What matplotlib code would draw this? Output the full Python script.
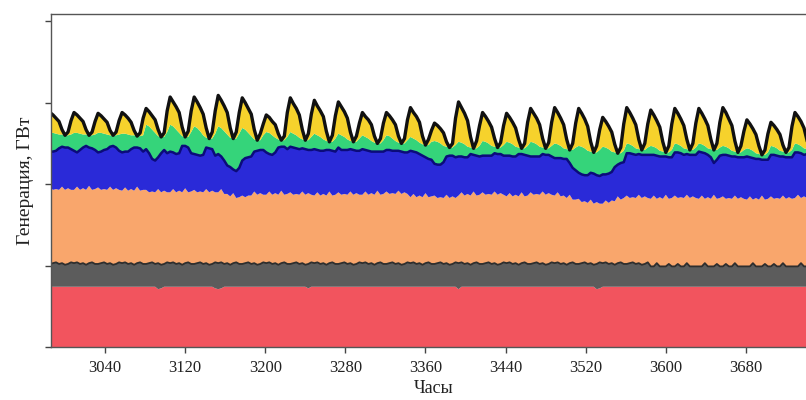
import numpy as np
import matplotlib
matplotlib.use("Agg")
import matplotlib.pyplot as plt

# hourly axis: one value every 3 hours, starting at hour 2985
start_hour = 2985
step_hours = 3

# generation by source, GW (one row = one day, 8 values)
red = [
    7.4,7.4,7.4,7.4,7.4,7.4,7.4,7.4,
    7.4,7.4,7.4,7.4,7.4,7.4,7.4,7.4,
    7.4,7.4,7.4,7.4,7.4,7.4,7.4,7.4,
    7.4,7.4,7.4,7.4,7.4,7.4,7.4,7.4,
    7.4,7.4,7.4,7.4,7.1,7.2,7.4,7.4,
    7.4,7.4,7.4,7.4,7.4,7.4,7.4,7.4,
    7.4,7.4,7.4,7.4,7.4,7.4,7.4,7.2,
    7.1,7.2,7.4,7.4,7.4,7.4,7.4,7.4,
    7.4,7.4,7.4,7.4,7.4,7.4,7.4,7.4,
    7.4,7.4,7.4,7.4,7.4,7.4,7.4,7.4,
    7.4,7.4,7.4,7.4,7.4,7.4,7.2,7.4,
    7.4,7.4,7.4,7.4,7.4,7.4,7.4,7.4,
    7.4,7.4,7.4,7.4,7.4,7.4,7.4,7.4,
    7.4,7.4,7.4,7.4,7.4,7.4,7.4,7.4,
    7.4,7.4,7.4,7.4,7.4,7.4,7.4,7.4,
    7.4,7.4,7.4,7.4,7.4,7.4,7.4,7.4,
    7.4,7.4,7.4,7.4,7.4,7.4,7.4,7.4,
    7.1,7.4,7.4,7.4,7.4,7.4,7.4,7.4,
    7.4,7.4,7.4,7.4,7.4,7.4,7.4,7.4,
    7.4,7.4,7.4,7.4,7.4,7.4,7.4,7.4,
    7.4,7.4,7.4,7.4,7.4,7.4,7.4,7.4,
    7.4,7.4,7.4,7.4,7.4,7.4,7.4,7.4,
    7.4,7.4,7.4,7.4,7.4,7.4,7.1,7.2,
    7.4,7.4,7.4,7.4,7.4,7.4,7.4,7.4,
    7.4,7.4,7.4,7.4,7.4,7.4,7.4,7.4,
    7.4,7.4,7.4,7.4,7.4,7.4,7.4,7.4,
    7.4,7.4,7.4,7.4,7.4,7.4,7.4,7.4,
    7.4,7.4,7.4,7.4,7.4,7.4,7.4,7.4,
    7.4,7.4,7.4,7.4,7.4,7.4,7.4,7.4,
    7.4,7.4,7.4,7.4,7.4,7.4,7.4,7.4,
    7.4,7.4,7.4,7.4,7.4,7.4,7.4,7.4,
    7.4,7.4,7.4,7.4,7.4,7.4,7.4,7.4,
]

gray = [
    2.8,2.9,3.0,2.8,2.9,2.7,2.8,3.0,
    2.9,3.0,2.8,2.9,2.7,2.9,3.0,2.8,
    2.8,2.9,3.0,2.8,2.9,2.7,2.8,3.0,
    2.9,3.0,2.8,2.9,2.7,2.9,3.0,2.8,
    2.8,2.9,3.0,2.8,3.2,2.9,2.8,3.0,
    2.9,3.0,2.8,2.9,2.7,2.9,3.0,2.8,
    2.8,2.9,3.0,2.8,2.9,2.7,2.8,3.2,
    3.2,3.2,2.8,2.9,2.7,2.9,3.0,2.8,
    2.8,2.9,3.0,2.8,2.9,2.7,2.8,3.0,
    2.9,3.0,2.8,2.9,2.7,2.9,3.0,2.8,
    2.8,2.9,3.0,2.8,2.9,2.7,3.0,3.0,
    2.9,3.0,2.8,2.9,2.7,2.9,3.0,2.8,
    2.8,2.9,3.0,2.8,2.9,2.7,2.8,3.0,
    2.9,3.0,2.8,2.9,2.7,2.9,3.0,2.8,
    2.8,2.9,3.0,2.8,2.9,2.7,2.8,3.0,
    2.9,3.0,2.8,2.9,2.7,2.9,3.0,2.8,
    2.8,2.9,3.0,2.8,2.9,2.7,2.8,3.0,
    3.2,3.0,2.8,2.9,2.7,2.9,3.0,2.8,
    2.8,2.9,3.0,2.8,2.9,2.7,2.8,3.0,
    2.9,3.0,2.8,2.9,2.7,2.9,3.0,2.8,
    2.8,2.9,3.0,2.8,2.9,2.7,2.8,3.0,
    2.9,3.0,2.8,2.9,2.7,2.9,3.0,2.8,
    2.8,2.9,3.0,2.8,2.9,2.7,3.1,3.2,
    2.9,3.0,2.8,2.9,2.7,2.9,3.0,2.8,
    2.8,2.9,3.0,2.8,2.9,2.7,2.8,3.0,
    2.5,2.5,2.9,2.5,2.5,2.5,2.8,2.5,
    2.5,2.8,2.5,2.5,2.9,2.5,2.5,2.5,
    2.5,2.5,2.9,2.5,2.5,2.5,2.8,2.5,
    2.5,2.8,2.5,2.5,2.9,2.5,2.5,2.5,
    2.5,2.5,2.9,2.5,2.5,2.5,2.8,2.5,
    2.5,2.8,2.5,2.5,2.9,2.5,2.5,2.5,
    2.5,2.5,2.9,2.5,2.5,2.5,2.8,2.5,
]

orange = [
    9.4,9.0,9.0,9.1,9.4,9.2,9.3,8.9,
    9.0,9.3,9.1,9.2,9.2,9.5,8.9,9.2,
    9.4,9.0,9.0,9.1,9.4,9.2,9.3,8.9,
    8.9,9.2,9.0,9.1,9.1,9.4,8.8,9.1,
    9.1,8.7,8.7,8.8,9.1,8.9,9.0,8.6,
    8.7,9.0,8.8,8.9,8.9,9.2,8.6,8.9,
    9.1,8.7,8.7,8.8,9.1,8.9,9.0,8.6,
    8.7,9.0,8.6,8.5,8.4,8.6,7.9,8.2,
    8.4,8.1,8.2,8.4,8.8,8.6,8.7,8.3,
    8.4,8.7,8.5,8.6,8.6,8.9,8.3,8.6,
    8.8,8.4,8.4,8.5,8.8,8.6,8.7,8.3,
    8.3,8.6,8.4,8.5,8.5,8.8,8.2,8.5,
    8.8,8.4,8.4,8.5,8.8,8.6,8.7,8.3,
    8.4,8.7,8.5,8.6,8.6,8.9,8.3,8.6,
    8.9,8.5,8.5,8.6,8.9,8.7,8.8,8.4,
    8.1,8.4,8.2,8.3,8.3,8.6,8.0,8.3,
    8.4,8.0,8.0,8.1,8.4,8.2,8.3,7.9,
    8.3,8.6,8.4,8.5,8.5,8.8,8.2,8.5,
    8.8,8.4,8.4,8.5,8.8,8.6,8.7,8.3,
    8.2,8.5,8.3,8.4,8.4,8.7,8.1,8.4,
    8.8,8.4,8.4,8.5,8.8,8.6,8.7,8.3,
    8.3,8.6,8.3,8.3,8.2,8.4,7.7,7.9,
    8.0,7.5,7.5,7.5,7.8,7.5,7.6,7.2,
    7.3,7.6,7.5,7.7,7.8,8.2,7.7,8.1,
    8.4,8.0,8.0,8.1,8.4,8.2,8.3,7.9,
    8.3,8.7,7.9,8.5,8.3,8.8,8.0,8.4,
    8.7,8.1,8.5,8.4,8.4,8.4,8.6,8.4,
    8.3,8.7,7.9,8.5,8.3,8.8,8.0,8.4,
    8.6,8.0,8.4,8.3,8.3,8.3,8.5,8.3,
    8.2,8.6,7.8,8.4,8.2,8.7,7.9,8.3,
    8.6,8.0,8.4,8.3,8.3,8.3,8.5,8.3,
    8.4,8.8,8.0,8.6,8.4,8.9,8.1,8.5,
]

blue = [
    4.4,4.7,4.7,5.1,4.9,5.2,5.0,5.0,
    4.8,4.2,4.9,5.0,5.4,4.7,5.1,4.8,
    4.3,4.7,4.8,5.0,4.9,5.4,5.0,4.8,
    4.7,4.4,4.8,4.9,5.3,4.8,5.2,4.7,
    5.0,4.8,4.0,3.9,3.9,4.8,5.0,4.8,
    5.0,4.5,4.7,4.6,5.7,5.2,5.5,4.7,
    4.4,4.6,4.4,4.6,5.1,5.4,5.1,4.5,
    4.7,4.0,4.1,3.5,3.6,2.9,3.3,3.6,
    4.3,4.8,4.7,4.8,4.9,5.4,5.3,5.5,
    5.2,4.6,4.9,5.0,5.8,5.4,5.9,5.5,
    5.6,5.8,5.6,5.6,5.3,5.6,5.3,5.5,
    5.7,5.2,5.5,5.3,5.6,5.1,5.5,5.3,
    5.5,5.5,5.4,5.5,5.2,5.5,5.2,5.4,
    5.6,5.1,5.4,5.1,5.3,4.8,5.3,5.2,
    5.1,5.4,5.2,5.3,4.9,5.2,4.9,5.1,
    5.7,5.2,5.5,5.1,5.1,4.4,4.7,4.5,
    3.9,4.1,4.0,4.4,4.7,5.2,5.0,5.0,
    4.8,4.4,4.7,4.5,5.1,4.5,4.9,4.7,
    4.5,4.8,4.7,4.8,4.7,5.0,4.8,4.8,
    5.0,4.6,4.9,4.7,5.2,4.7,5.1,4.9,
    4.4,4.7,4.6,4.7,4.6,4.9,4.7,4.7,
    4.6,4.2,4.7,4.5,4.8,3.9,3.9,3.6,
    3.2,3.4,3.2,3.4,3.3,3.7,3.3,3.4,
    3.6,3.2,3.6,3.5,4.2,3.9,4.5,4.4,
    5.2,5.5,5.3,5.3,5.0,5.3,5.1,5.3,
    5.4,5.0,5.3,5.0,5.2,4.7,5.1,5.0,
    5.3,5.6,5.4,5.3,5.0,5.3,5.1,5.3,
    5.8,5.3,5.6,5.2,5.1,3.9,4.8,5.2,
    5.1,5.4,5.2,5.2,4.8,5.1,4.9,5.1,
    5.3,4.8,5.1,4.8,5.0,4.4,4.9,4.8,
    5.1,5.4,5.2,5.2,4.8,5.1,4.9,5.1,
    5.6,5.2,5.5,5.1,5.4,4.8,5.3,5.2,
]

green = [
    2.3,2.3,2.1,1.7,1.5,1.5,1.5,1.8,
    2.2,2.4,2.0,1.6,1.4,1.5,1.6,1.9,
    2.4,2.3,2.0,1.8,1.4,1.3,1.5,2.0,
    2.3,2.2,2.1,1.7,1.5,1.4,1.5,2.0,
    3.0,3.3,3.6,3.4,2.6,2.0,1.6,2.6,
    3.3,3.2,3.0,2.5,1.2,1.1,1.3,2.6,
    3.4,3.3,3.0,2.4,1.2,1.2,1.3,2.7,
    3.4,3.5,3.6,3.8,3.6,3.8,4.0,4.2,
    4.0,3.5,3.0,2.5,1.5,1.3,1.2,1.8,
    2.5,2.6,2.4,1.8,1.0,0.8,0.8,1.5,
    1.8,1.7,1.6,1.4,1.1,1.1,1.2,1.6,
    1.9,1.8,1.7,1.4,1.1,1.0,1.1,1.6,
    1.7,1.8,1.6,1.3,1.0,1.0,1.1,1.5,
    1.7,1.6,1.5,1.3,1.1,1.0,1.0,1.4,
    1.8,1.7,1.5,1.2,1.0,1.0,1.1,1.5,
    1.7,1.6,1.5,1.4,1.4,1.5,1.7,2.2,
    2.8,2.8,2.6,2.0,1.2,1.0,1.0,1.5,
    1.8,1.7,1.6,1.3,0.8,0.8,0.9,1.3,
    1.8,1.7,1.5,1.2,0.8,0.8,0.8,1.3,
    1.7,1.6,1.5,1.2,0.8,0.7,0.8,1.2,
    1.8,1.7,1.5,1.2,0.8,0.8,0.8,1.3,
    1.8,1.7,1.5,1.3,1.2,1.6,2.2,2.8,
    3.3,3.4,3.3,3.0,2.6,2.6,2.8,3.2,
    3.4,3.3,3.0,2.5,1.8,1.4,1.2,1.4,
    1.2,1.1,1.0,0.8,0.6,0.6,0.6,0.9,
    1.1,1.0,0.9,0.7,0.6,0.5,0.6,0.9,
    1.1,1.0,0.9,0.8,0.6,0.6,0.6,0.9,
    1.0,1.0,0.9,0.8,1.0,1.6,1.2,1.0,
    1.1,1.0,0.9,0.7,0.6,0.6,0.6,0.9,
    1.0,1.0,0.9,0.7,0.6,0.6,0.6,0.9,
    1.1,1.0,0.9,0.7,0.6,0.6,0.6,0.9,
    1.1,1.0,0.9,0.8,0.6,0.6,0.6,0.9,
]

yellow = [
    2.5,2.2,1.9,1.6,0.6,0,0.4,1.7,
    2.5,2.2,1.9,1.6,0.6,0,0.4,1.6,
    2.4,2.1,1.8,1.5,0.6,0,0.4,1.7,
    2.6,2.3,2.0,1.6,0.6,0,0.4,2.1,
    2.0,1.8,1.7,1.6,0.8,0,0.5,2.6,
    3.4,3.0,2.8,2.5,1.1,0,0.7,2.6,
    3.6,3.2,2.9,2.6,1.2,0,0.8,2.8,
    3.8,3.4,3.1,2.7,1.2,0,0.8,2.6,
    3.7,3.3,3.0,2.7,1.2,0,0.8,1.4,
    2.1,1.9,1.7,1.6,0.7,0,0.5,3.0,
    4.2,3.7,3.3,2.8,1.2,0,0.8,2.8,
    4.1,3.6,3.2,2.8,1.2,0,0.8,2.8,
    3.9,3.5,3.1,2.6,1.1,0,0.7,1.9,
    2.8,2.5,2.3,2.0,0.8,0,0.6,2.1,
    2.8,2.5,2.3,2.0,0.8,0,0.6,2.5,
    3.6,3.2,2.9,2.5,1.0,0,0.7,1.4,
    2.2,2.0,1.8,1.6,0.6,0,0.5,3.3,
    4.9,4.3,3.8,3.2,1.3,0,0.9,2.5,
    3.5,3.1,2.7,2.3,1.0,0,0.6,2.4,
    3.5,3.1,2.7,2.3,1.0,0,0.6,2.9,
    4.1,3.6,3.2,2.7,1.1,0,0.7,2.9,
    4.4,3.9,3.4,2.9,1.2,0,0.8,3.0,
    4.6,4.1,3.6,3.0,1.2,0,0.8,2.5,
    3.6,3.2,2.8,2.4,1.0,0,0.7,3.3,
    4.4,3.9,3.4,2.9,1.2,0,0.8,2.9,
    4.4,3.9,3.4,2.9,1.2,0,0.8,3.2,
    4.3,3.8,3.3,2.8,1.2,0,0.8,3.0,
    4.3,3.8,3.3,2.8,1.2,0,0.8,3.1,
    4.7,4.2,3.6,3.1,1.3,0,0.8,2.3,
    3.5,3.1,2.7,2.3,1.0,0,0.6,2.3,
    2.9,2.6,2.3,2.0,0.8,0,0.6,2.9,
    3.8,3.4,3.0,2.5,1.1,0,0.7,2.7,
]

x_ticks = [3040, 3120, 3200, 3280, 3360, 3440, 3520, 3600, 3680]
y_ticks = [0, 10, 20, 30, 40]

colors = ["#F2545E", "#5C5C5C", "#F9A66C", "#2A2AD8", "#35D47A", "#F6D22C"]

n = len(red)
hours = start_hour + step_hours * np.arange(n)
layers = np.vstack([red, gray, orange, blue, green, yellow])
cum = np.cumsum(layers, axis=0)

fig = plt.figure(figsize=(8.06, 4.0), dpi=100)
W, H = 806, 400
left_px, right_px, top_px, bottom_px = 51, 816, 14, 347
ax = fig.add_axes([left_px / W, 1 - bottom_px / H, (right_px - left_px) / W, (bottom_px - top_px) / H])

ax.stackplot(hours, layers, colors=colors, linewidth=0, antialiased=True)
ax.plot(hours, cum[1], color="#2E2E2E", lw=1.3)
ax.plot(hours, cum[3], color="#0B0B7A", lw=1.8)
ax.plot(hours, cum[5], color="#111111", lw=2.4)

ax.set_xlim(2986, 3750)
ax.set_ylim(0, 40.9)
ax.set_xticks(x_ticks)
ax.set_yticks(y_ticks)
ax.set_yticklabels([])
ax.tick_params(direction="out", length=4, width=1, color="#444444", pad=5)
for lab in ax.get_xticklabels():
    lab.set_fontfamily("Liberation Serif")
    lab.set_fontsize(12)
    lab.set_color("#222222")
for s in ax.spines.values():
    s.set_color("#555555")
    s.set_linewidth(1.0)

ax.set_xlabel("Часы", fontfamily="Liberation Serif", fontsize=13, color="#222222", labelpad=3)
ax.set_ylabel("Генерация, ГВт", fontfamily="Liberation Serif", fontsize=14, color="#222222", labelpad=3)

fig.savefig("out.png", dpi=100)
